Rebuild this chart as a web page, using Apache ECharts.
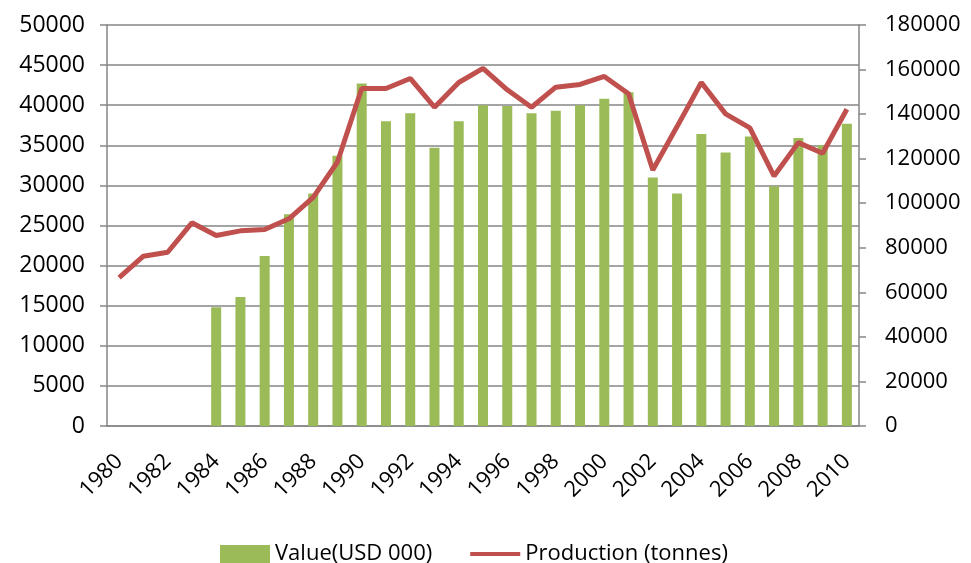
<!DOCTYPE html>
<html>
<head>
<meta charset="utf-8">
<script src="https://cdn.jsdelivr.net/npm/echarts@6/dist/echarts.min.js"></script>
<style>
  html, body { margin: 0; padding: 0; background: #fff; }
  #main { width: 971px; height: 563px; }
</style>
</head>
<body>
<div id="main"></div>
<script>
var years = [];
for (var y = 1980; y <= 2010; y++) years.push(String(y));

// Value (USD 000), left axis
var valueUsd = [null, null, null, null, 14800, 16100, 21200, 26400, 29000, 33700,
  42700, 38000, 39000, 34700, 38000, 40000, 39900, 39000, 39300, 40000,
  40800, 41600, 31000, 29000, 36400, 34100, 36100, 29900, 35900, 35000, 37700];

// Production (tonnes), right axis
var production = [66600, 76200, 78000, 91200, 85500, 87600, 88200, 93000, 102600, 118500,
  151500, 151500, 156000, 143100, 154200, 160500, 150900, 143100, 152100, 153300,
  156900, 149100, 114900, 134400, 154200, 140100, 133800, 112200, 127200, 122400, 142200];

var font = '"Open Sans", sans-serif';
var gray = '#868686';

var chartDom = document.getElementById('main');
var myChart = echarts.init(chartDom);
var option;

function plain(v) { return String(v); }

option = {
    animation: false,
    textStyle: { fontFamily: font },
    grid: {
        left: 107,
        right: 112,
        top: 25,
        bottom: 137
    },
    legend: {
        top: 538,
        left: 215,
        itemGap: 38,
        itemWidth: 50,
        itemHeight: 18,
        textStyle: { fontSize: 22, color: '#000', fontFamily: font },
        data: [
            { name: 'Value(USD 000)', icon: 'rect' },
            { name: 'Production (tonnes)', icon: 'path://M0,0L50,0L50,4L0,4Z' }
        ]
    },
    xAxis: {
        type: 'category',
        data: years,
        axisLine: { lineStyle: { color: gray, width: 1.5 } },
        axisTick: { length: 7, lineStyle: { color: gray, width: 1.5 } },
        axisLabel: {
            interval: 1,
            rotate: 45,
            fontSize: 22,
            color: '#000',
            margin: 32,
            fontFamily: font
        }
    },
    yAxis: [
        {
            type: 'value',
            min: 0,
            max: 50000,
            interval: 5000,
            axisLine: { show: true, lineStyle: { color: gray, width: 1.5 } },
            axisTick: { show: true, length: 7, lineStyle: { color: gray, width: 1.5 } },
            splitLine: { lineStyle: { color: gray, width: 1.5 } },
            axisLabel: { fontSize: 23, color: '#000', margin: 22, fontFamily: font, formatter: plain }
        },
        {
            type: 'value',
            min: 0,
            max: 180000,
            interval: 20000,
            axisLine: { show: true, lineStyle: { color: gray, width: 1.5 } },
            axisTick: { show: true, length: 7, lineStyle: { color: gray, width: 1.5 } },
            splitLine: { show: false },
            axisLabel: { fontSize: 22, color: '#000', margin: 26, fontFamily: font, formatter: plain }
        }
    ],
    series: [
        {
            name: 'Value(USD 000)',
            type: 'bar',
            yAxisIndex: 0,
            barWidth: 10,
            itemStyle: { color: '#9BBB59' },
            data: valueUsd
        },
        {
            name: 'Production (tonnes)',
            type: 'line',
            yAxisIndex: 1,
            symbol: 'none',
            lineStyle: { color: '#C0504D', width: 5 },
            itemStyle: { color: '#C0504D' },
            data: production
        }
    ]
};

option && myChart.setOption(option);
</script>
</body>
</html>
